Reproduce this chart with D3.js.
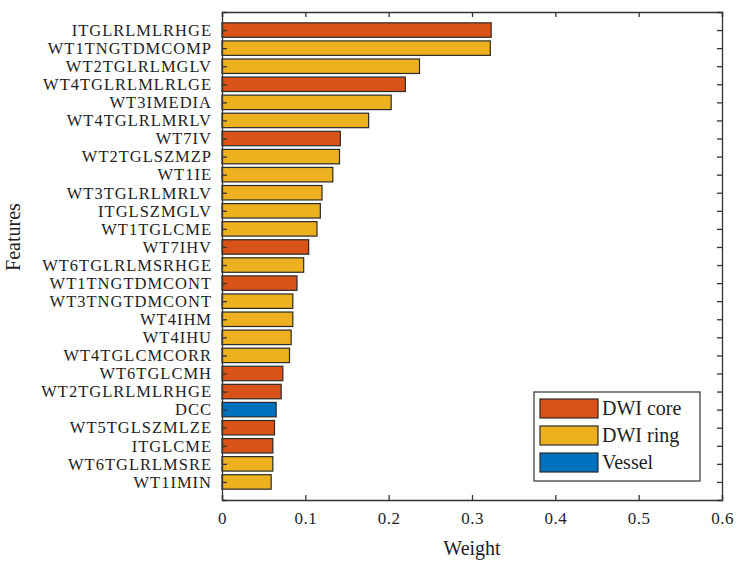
<!DOCTYPE html>
<html>
<head>
<meta charset="utf-8">
<script src="https://cdn.jsdelivr.net/npm/d3@7"></script>
<style>
	body { margin: 0; background: #fff; }
	svg text { font-family: "Liberation Serif", "DejaVu Serif", "Times New Roman", serif; fill: #1e1e1e; }
</style>
</head>
<body>
<svg width="741" height="564"></svg>
<script>
let features = ['ITGLRLMLRHGE', 'WT1TNGTDMCOMP', 'WT2TGLRLMGLV', 'WT4TGLRLMLRLGE', 'WT3IMEDIA',
	'WT4TGLRLMRLV', 'WT7IV', 'WT2TGLSZMZP', 'WT1IE', 'WT3TGLRLMRLV', 'ITGLSZMGLV', 'WT1TGLCME',
	'WT7IHV', 'WT6TGLRLMSRHGE', 'WT1TNGTDMCONT', 'WT3TNGTDMCONT', 'WT4IHM', 'WT4IHU',
	'WT4TGLCMCORR', 'WT6TGLCMH', 'WT2TGLRLMLRHGE', 'DCC', 'WT5TGLSZMLZE', 'ITGLCME',
	'WT6TGLRLMSRE', 'WT1IMIN'];
let weights = [0.323, 0.322, 0.237, 0.220, 0.203, 0.176, 0.142, 0.141, 0.133, 0.120, 0.118, 0.114,
	0.104, 0.098, 0.090, 0.085, 0.085, 0.083, 0.081, 0.073, 0.071, 0.065, 0.063, 0.061, 0.061, 0.059];
let groups = ['core', 'ring', 'ring', 'core', 'ring', 'ring', 'core', 'ring', 'ring', 'ring', 'ring', 'ring',
	'core', 'ring', 'core', 'ring', 'ring', 'ring', 'ring', 'core', 'core', 'vessel', 'core', 'core',
	'ring', 'ring'];
let legendKeys = ['core', 'ring', 'vessel'];
let legendNames = ['DWI core', 'DWI ring', 'Vessel'];
let legendColors = ['#D95319', '#EDB120', '#0072BD'];
let xTicks = [0, 0.1, 0.2, 0.3, 0.4, 0.5, 0.6];

let svg = d3.select("svg");
const plotL = 222, plotR = 722, plotT = 12, plotB = 500;

const x = d3.scaleLinear().domain([0, 0.6]).range([plotL, plotR]);
const y = d3.scaleLinear().domain([0, features.length + 1]).range([plotT, plotB]);
const color = d3.scaleOrdinal().domain(legendKeys).range(legendColors);
const barH = y(0.8) - y(0);
const positions = features.map((f, i) => i + 1);

// bars
svg.append("g")
	.selectAll("rect")
	.data(features)
	.enter().append("rect")
		.attr("x", x(0))
		.attr("y", (d, i) => y(i + 1) - barH / 2)
		.attr("width", (d, i) => x(weights[i]) - x(0))
		.attr("height", barH)
		.attr("fill", (d, i) => color(groups[i]))
		.attr("stroke", "#2a2a2a")
		.attr("stroke-width", 1.2);

// axes, ticks pointing inward like matlab
const xBottom = d3.axisBottom(x).tickValues(xTicks).tickFormat(d3.format("")).tickSize(-5).tickPadding(12);
const xTop = d3.axisTop(x).tickValues(xTicks).tickFormat("").tickSize(-5);
const yLeft = d3.axisLeft(y).tickValues(positions).tickFormat(d => features[d - 1]).tickSize(-5).tickPadding(10);
const yRight = d3.axisRight(y).tickValues(positions).tickFormat("").tickSize(-5);

function styleAxis(g, fs, ls) {
	g.attr("font-family", null);
	g.select(".domain").attr("stroke", "#333").attr("stroke-width", 1.3);
	g.selectAll(".tick line").attr("stroke", "#333").attr("stroke-width", 1.3);
	g.selectAll(".tick text").attr("font-size", fs).attr("letter-spacing", ls);
}

svg.append("g").attr("transform", `translate(0,${plotB})`).call(xBottom).call(g => styleAxis(g, 17, 0.5));
svg.append("g").attr("transform", `translate(0,${plotT})`).call(xTop).call(g => styleAxis(g, 17, 0));
svg.append("g").attr("transform", `translate(${plotL},0)`).call(yLeft).call(g => styleAxis(g, 16.5, 1));
svg.append("g").attr("transform", `translate(${plotR},0)`).call(yRight).call(g => styleAxis(g, 16.5, 0));

// axis titles
svg.append("text")
	.attr("x", (plotL + plotR) / 2)
	.attr("y", 555)
	.attr("text-anchor", "middle")
	.attr("font-size", 20)
	.text("Weight");

svg.append("text")
	.attr("transform", "translate(20,237) rotate(-90)")
	.attr("text-anchor", "middle")
	.attr("font-size", 20)
	.text("Features");

// legend
const legend = svg.append("g").attr("transform", "translate(534,392)");
legend.append("rect")
	.attr("width", 166).attr("height", 89)
	.attr("fill", "#fff").attr("stroke", "#333").attr("stroke-width", 1.2);

const item = legend.selectAll(".item")
	.data(legendNames)
	.enter().append("g")
		.attr("transform", (d, i) => `translate(6,${7 + i * 27})`);
item.append("rect")
	.attr("width", 58).attr("height", 19)
	.attr("fill", (d, i) => legendColors[i])
	.attr("stroke", "#2a2a2a").attr("stroke-width", 1.2);
item.append("text")
	.attr("x", 62).attr("y", 16)
	.attr("font-size", 20)
	.text(d => d);
</script>
</body>
</html>
